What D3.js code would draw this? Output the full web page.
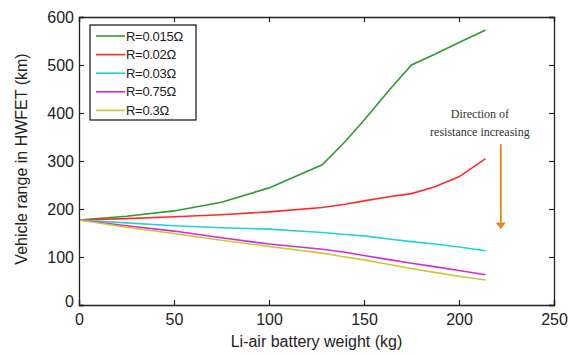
<!DOCTYPE html>
<html>
<head>
<meta charset="utf-8">
<script src="https://cdn.jsdelivr.net/npm/d3@7"></script>
<style>
  body { margin: 0; background: white; }
  svg { font-family: "Liberation Sans", Arial, sans-serif; }
</style>
</head>
<body>
<svg id="chart" width="579" height="354"></svg>
<script>
//battery weight (kg) where values were read
const weights = [0, 25, 50, 75, 100, 128, 140, 150, 164, 175, 187, 200, 214];

//vehicle range (km) for each resistance
const rangeR0015 = [177, 185, 196, 214, 244, 292, 340, 385, 451, 500, 522, 547, 573];
const rangeR002 = [177, 180, 184, 188, 194, 203, 210, 217, 226, 232, 246, 267, 305];
const rangeR003 = [177, 171, 165, 161, 158, 151, 147, 144, 137, 132, 127, 121, 113];
const rangeR075 = [177, 165, 154, 140, 127, 116, 110, 103, 94, 87, 80, 72, 63];
const rangeR03 = [177, 162, 149, 135, 122, 108, 100, 94, 84, 76, 68, 60, 52];

const seriesNames = ["R=0.015Ω", "R=0.02Ω", "R=0.03Ω", "R=0.75Ω", "R=0.3Ω"];
const seriesValues = [rangeR0015, rangeR002, rangeR003, rangeR075, rangeR03];
const seriesColors = ["#2f9a2f", "#ff2a2a", "#22d3d3", "#d42cd4", "#c8c832"];

const xTicks = [0, 50, 100, 150, 200, 250];
const yTicks = [0, 100, 200, 300, 400, 500, 600];

//setup chart
const margin = { top: 17, right: 25, bottom: 49, left: 79 };
const width = 579;
const height = 354;
const innerW = width - margin.left - margin.right;
const innerH = height - margin.top - margin.bottom;

const svg = d3.select("#chart");
const g = svg.append("g")
    .attr("transform", `translate(${margin.left},${margin.top})`);

const x = d3.scaleLinear().domain([0, 250]).range([0, innerW]);
const y = d3.scaleLinear().domain([0, 600]).range([innerH, 0]);

//lines
const line = d3.line()
    .x((d, i) => x(weights[i]))
    .y(d => y(d));

g.selectAll("path.series")
    .data(seriesValues)
    .join("path")
    .attr("class", "series")
    .attr("fill", "none")
    .attr("stroke", (d, i) => seriesColors[i])
    .attr("stroke-width", 1.6)
    .attr("d", line);

//box axes with inward ticks, like matlab
const tickLen = 5;
g.append("g")
    .attr("transform", `translate(0,${innerH})`)
    .call(d3.axisBottom(x).tickValues(xTicks).tickSize(-tickLen).tickPadding(9))
    .call(a => a.selectAll("text").style("font-size", "16px").attr("fill", "#222"));
g.append("g")
    .call(d3.axisLeft(y).tickValues(yTicks).tickSize(-tickLen).tickPadding(5))
    .call(a => a.selectAll("text").style("font-size", "16px").attr("fill", "#222"));
g.append("g")
    .call(d3.axisTop(x).tickValues(xTicks).tickSize(-tickLen).tickFormat(""));
g.append("g")
    .attr("transform", `translate(${innerW},0)`)
    .call(d3.axisRight(y).tickValues(yTicks).tickSize(-tickLen).tickFormat(""));

g.selectAll(".domain").attr("stroke", "#222").attr("stroke-width", 1.3);
g.selectAll(".tick line").attr("stroke", "#222").attr("stroke-width", 1.2);

//y=0 label sits a bit up and left, the x=0 label under the corner
g.selectAll("g.tick text").filter(d => d === 0).each(function () {
    const t = d3.select(this);
    if (t.attr("x") !== null && +t.attr("x") < 0) t.attr("dy", "0.1em");
});

//axis titles
g.append("text")
    .attr("x", innerW / 2)
    .attr("y", innerH + 42)
    .attr("text-anchor", "middle")
    .style("font-size", "16px")
    .attr("fill", "#222")
    .text("Li-air battery weight (kg)");

g.append("text")
    .attr("transform", "rotate(-90)")
    .attr("x", -innerH / 2 + 2)
    .attr("y", -52)
    .attr("text-anchor", "middle")
    .style("font-size", "16px")
    .attr("fill", "#222")
    .text("Vehicle range in HWFET (km)");

//legend
const legend = g.append("g").attr("transform", "translate(11,8)");
legend.append("rect")
    .attr("width", 106)
    .attr("height", 95)
    .attr("fill", "white")
    .attr("stroke", "#222")
    .attr("stroke-width", 1.3);

const rows = legend.selectAll("g.row")
    .data(seriesNames)
    .join("g")
    .attr("class", "row")
    .attr("transform", (d, i) => `translate(0,${11 + i * 18.6})`);
rows.append("line")
    .attr("x1", 6).attr("x2", 35)
    .attr("stroke", (d, i) => seriesColors[i])
    .attr("stroke-width", 1.6);
rows.append("text")
    .attr("x", 36)
    .attr("dy", "0.35em")
    .style("font-size", "13px")
    .style("letter-spacing", "-0.3px")
    .attr("fill", "#222")
    .text(d => d);

//annotation
const note = g.append("g").attr("font-family", "'Liberation Serif', 'DejaVu Serif', serif");
note.append("text")
    .attr("x", x(211))
    .attr("y", 101)
    .attr("text-anchor", "middle")
    .style("font-size", "12px")
    .attr("fill", "#333")
    .text("Direction of");
note.append("text")
    .attr("x", x(211))
    .attr("y", 119)
    .attr("text-anchor", "middle")
    .style("font-size", "12px")
    .attr("fill", "#333")
    .text("resistance increasing");

const arrowColor = "#e0861c";
note.append("line")
    .attr("x1", x(222)).attr("x2", x(222))
    .attr("y1", y(335)).attr("y2", y(172))
    .attr("stroke", arrowColor)
    .attr("stroke-width", 1.8);
note.append("path")
    .attr("d", `M${x(222) - 5},${y(172)} L${x(222) + 5},${y(172)} L${x(222)},${y(158)} Z`)
    .attr("fill", arrowColor);
</script>
</body>
</html>
